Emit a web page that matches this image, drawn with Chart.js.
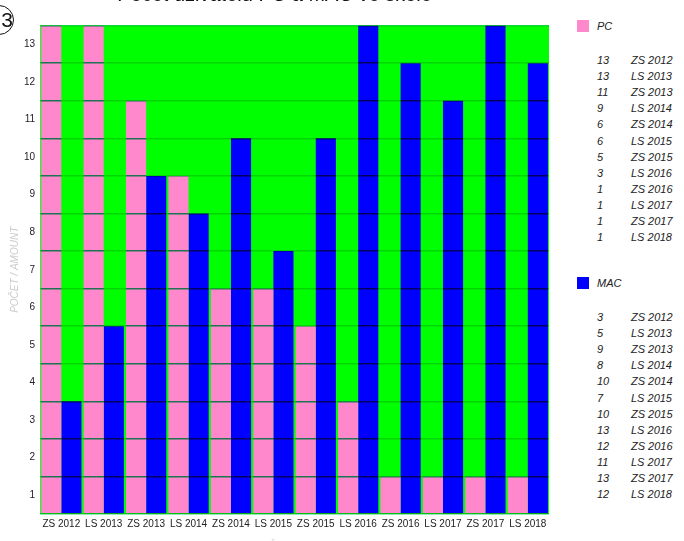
<!DOCTYPE html>
<html>
<head>
<meta charset="utf-8">
<script src="https://cdn.jsdelivr.net/npm/chart.js@4"></script>
<style>
    html, body { margin: 0; padding: 0; background: #fff; overflow: hidden; }
    body { width: 684px; height: 541px; position: relative; font-family: 'Liberation Sans', Arial, sans-serif; }
    #wrap { position: absolute; left: 0; top: -22px; width: 560px; height: 578px; }
    #badge {
        position: absolute; left: -16px; top: 5px; width: 28px; height: 28px;
        border: 1px solid #111; border-radius: 50%;
        font-size: 21px; line-height: 28px; text-align: right; color: #111;
    }
    #legend { position: absolute; left: 577px; top: 0; width: 107px; font-style: italic; font-size: 11px; color: #222; }
    .lg-head { position: absolute; left: 0; height: 14px; }
    .lg-box { position: absolute; left: 0; top: 0; width: 12px; height: 12px; }
    .lg-name { position: absolute; left: 20px; top: 0; line-height: 13px; white-space: nowrap; }
    .lg-row { position: absolute; left: 20px; white-space: nowrap; line-height: 13px; }
    .lg-row .v { display: inline-block; width: 34px; }
</style>
</head>
<body>
<div id="wrap"><canvas id="chart"></canvas></div>
<div id="badge">3</div>
<div id="legend"></div>
<script>
    /* =============================================
       Data
       ============================================= */
    const TERMS = ['ZS 2012', 'LS 2013', 'ZS 2013', 'LS 2014', 'ZS 2014', 'LS 2015',
                   'ZS 2015', 'LS 2016', 'ZS 2016', 'LS 2017', 'ZS 2017', 'LS 2018'];
    const PC_VALUES  = [13, 13, 11, 9, 6, 6, 5, 3, 1, 1, 1, 1];
    const MAC_VALUES = [3, 5, 9, 8, 10, 7, 10, 13, 12, 11, 13, 12];
    const Y_TICKS    = [1, 2, 3, 4, 5, 6, 7, 8, 9, 10, 11, 12, 13];

    const PINK  = '#ff88cc';
    const BLUE  = '#0000ff';
    const GREEN = '#00ff00';
    const FONT  = "'Liberation Sans', Arial, sans-serif";

    /* =============================================
       Plugins: green plot area, multiplied grid lines
       ============================================= */
    const plotBackground = {
        id: 'plotBackground',
        beforeDraw(chart) {
            const { ctx, chartArea: a } = chart;
            ctx.save();
            ctx.fillStyle = GREEN;
            ctx.fillRect(a.left, a.top, a.right - a.left, a.bottom - a.top);
            ctx.restore();
        }
    };

    const gridMultiply = {
        id: 'gridMultiply',
        afterDatasetsDraw(chart) {
            chart.ctx.save();
            chart.ctx.globalCompositeOperation = 'multiply';
        },
        afterDraw(chart) {
            chart.ctx.restore();
        }
    };

    /* =============================================
       Chart
       ============================================= */
    const chart = new Chart(document.getElementById('chart').getContext('2d'), {
        type: 'bar',
        data: {
            labels: TERMS,
            datasets: [
                { label: 'PC',  data: PC_VALUES,  backgroundColor: PINK, borderWidth: 0 },
                { label: 'MAC', data: MAC_VALUES, backgroundColor: BLUE, borderWidth: 0 }
            ]
        },
        options: {
            responsive: true,
            maintainAspectRatio: false,
            animation: false,
            layout: { padding: { left: 0, right: 11, top: 0, bottom: 0 } },
            datasets: { bar: { categoryPercentage: 0.95, barPercentage: 1 } },
            plugins: {
                legend: { display: false },
                tooltip: { enabled: false },
                title: {
                    display: true,
                    text: 'Počet uživatelů PC a MAC ve škole',
                    color: '#111',
                    font: { family: FONT, size: 20, weight: 'normal' },
                    padding: { top: 5, bottom: 18.6 }
                }
            },
            scales: {
                x: {
                    grid: { display: false, drawTicks: false },
                    border: { display: false },
                    ticks: {
                        color: '#222',
                        font: { family: FONT, size: 10 },
                        maxRotation: 0,
                        autoSkip: false,
                        padding: 4
                    },
                    title: {
                        display: true,
                        text: 'ČAS / TIME',
                        color: '#ccc',
                        font: { family: FONT, size: 10, style: 'italic' },
                        padding: { top: 6, bottom: 4 }
                    }
                },
                y: {
                    min: 0,
                    max: 13,
                    border: { display: false },
                    grid: { color: 'rgb(30, 215, 100)', lineWidth: 1.5, drawTicks: false, z: 1 },
                    afterBuildTicks: axis => {
                        axis.ticks = [0].concat(Y_TICKS).map(v => ({ value: v }));
                    },
                    ticks: {
                        color: '#222',
                        font: { family: FONT, size: 10 },
                        padding: 5,
                        labelOffset: 18.8,
                        callback: v => (v === 0 ? '' : v)
                    },
                    title: {
                        display: true,
                        text: 'POČET / AMOUNT',
                        color: '#ccc',
                        font: { family: FONT, size: 10, style: 'italic', lineHeight: 0.7 },
                        padding: { top: 12, bottom: 0 }
                    }
                }
            }
        },
        plugins: [plotBackground, gridMultiply]
    });

    /* =============================================
       Legend on the right
       ============================================= */
    const legend = document.getElementById('legend');
    function addBlock(name, color, values, top) {
        const head = document.createElement('div');
        head.className = 'lg-head';
        head.style.top = top + 'px';
        head.innerHTML = '<div class="lg-box" style="background:' + color + '"></div>' +
                         '<div class="lg-name">' + name + '</div>';
        legend.appendChild(head);
        values.forEach((v, i) => {
            const row = document.createElement('div');
            row.className = 'lg-row';
            row.style.top = (top + 34 + i * 16.1) + 'px';
            row.innerHTML = '<span class="v">' + v + '</span>' + TERMS[i];
            legend.appendChild(row);
        });
    }
    addBlock('PC', PINK, PC_VALUES, 20);
    addBlock('MAC', BLUE, MAC_VALUES, 277);
</script>
</body>
</html>
